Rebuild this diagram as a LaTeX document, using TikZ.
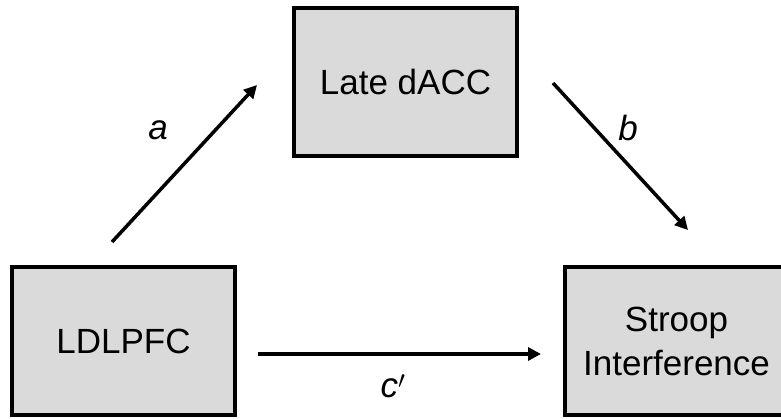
\documentclass[tikz,border=0pt]{standalone}
\usepackage{fontspec}
\setmainfont{Liberation Sans}
\usetikzlibrary{arrows.meta}
\definecolor{boxfill}{HTML}{DADADA}
\tikzset{
  region/.style={draw=black, line width=3.5pt, fill=boxfill,
    minimum width=223pt, minimum height=148pt, inner sep=0pt,
    align=center, font=\fontsize{35}{44}\selectfont},
  path/.style={line width=3.5pt, -{Triangle[length=13pt,width=13pt]}},
  coef/.style={font=\fontsize{35}{40}\selectfont\itshape, inner sep=0pt}
}
\begin{document}
\begin{tikzpicture}[x=1pt,y=-1pt]
  \useasboundingbox (0,0) rectangle (781,419);
  \begin{scope}
    \clip (0,0) rectangle (781,419);
    \node[region] (dacc) at (405.5,82) {Late dACC};
    \node[region] (ldlpfc) at (123.5,341) {LDLPFC};
    \node[region] (stroop) at (676.5,341) {Stroop\\Interference};
  \end{scope}
  % free ends of the three paths
  \coordinate (aS) at (112,242);
  \coordinate (aE) at (257,85);
  \coordinate (bS) at (553,83);
  \coordinate (bE) at (688,230);
  \coordinate (cS) at (258,354);
  \coordinate (cE) at (541,354);
  \draw[path] (aS) -- (aE);
  \draw[path] (bS) -- (bE);
  \draw[path] (cS) -- (cE);
  \node[coef] (la) at (158,130) {a};
  \node[coef] (lb) at (628,128) {b};
  \node[coef] (lc) at (393,386) {c$'$};
\end{tikzpicture}
\end{document}
